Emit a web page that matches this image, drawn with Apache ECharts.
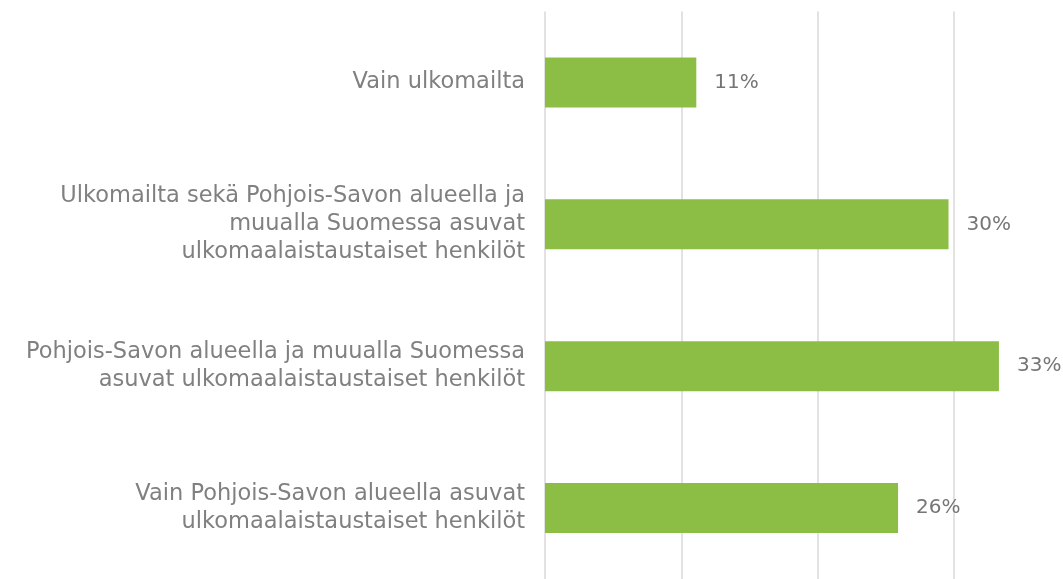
<!DOCTYPE html>
<html>
<head>
<meta charset="utf-8">
<script src="https://cdn.jsdelivr.net/npm/echarts@6/dist/echarts.min.js"></script>
<style>
  html, body { margin: 0; padding: 0; background: #fff; }
  #chart { width: 1063px; height: 579px; }
</style>
</head>
<body>
<div id="chart"></div>
<script>
const categories = [
  'Vain ulkomailta',
  'Ulkomailta sekä Pohjois-Savon alueella ja\nmuualla Suomessa asuvat\nulkomaalaistaustaiset henkilöt',
  'Pohjois-Savon alueella ja muualla Suomessa\nasuvat ulkomaalaistaustaiset henkilöt',
  'Vain Pohjois-Savon alueella asuvat\nulkomaalaistaustaiset henkilöt'
];
const shares = [11.1, 29.6, 33.3, 25.9];

const chart = echarts.init(document.getElementById('chart'));

chart.setOption({
  animation: false,
  backgroundColor: '#fff',
  textStyle: { fontFamily: '"DejaVu Sans", sans-serif' },
  // the plot runs past the right edge (next gridline would be off-canvas)
  grid: { left: 545, right: 0, top: 11.5, bottom: -4.5, containLabel: false },
  xAxis: {
    type: 'value',
    min: 0,
    max: 38,
    interval: 10,
    axisLine: { show: false },
    axisTick: { show: false },
    axisLabel: { show: false },
    splitLine: { showMaxLine: false, lineStyle: { color: '#e2e2e2', width: 2 } }
  },
  yAxis: {
    type: 'category',
    inverse: true,
    data: categories,
    axisLine: { show: false },
    axisTick: { show: false },
    axisLabel: {
      margin: 20,
      color: '#808080',
      fontSize: 22.5,
      lineHeight: 28,
      align: 'right'
    }
  },
  series: [
    {
      type: 'bar',
      data: shares,
      barWidth: 50,
      itemStyle: { color: '#8cbd45' },
      label: {
        show: true,
        position: 'right',
        distance: 18,
        color: '#767676',
        fontSize: 20,
        formatter: (p) => Math.round(p.value) + '%'
      }
    }
  ]
});
</script>
</body>
</html>
